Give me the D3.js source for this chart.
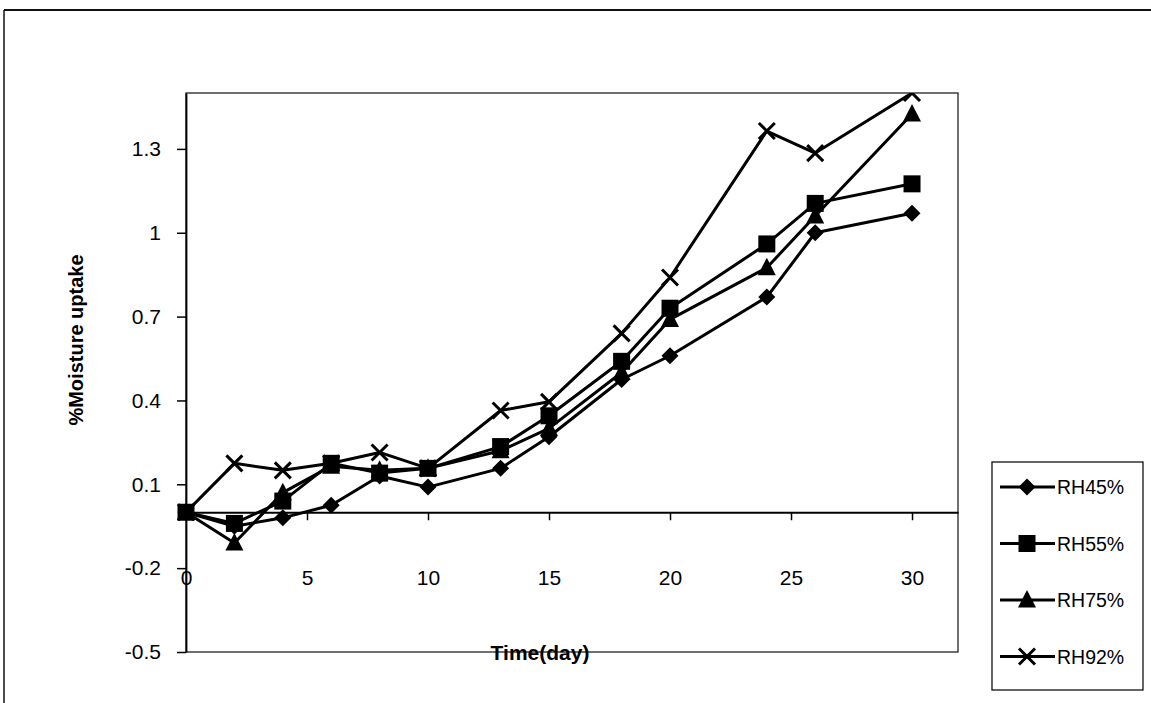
<!DOCTYPE html>
<html>
<head>
<meta charset="utf-8">
<script src="https://cdn.jsdelivr.net/npm/d3@7"></script>
<style>
  html, body { margin: 0; padding: 0; background: #fff; }
  svg { display: block; font-family: Arial, "Liberation Sans", sans-serif; }
</style>
</head>
<body>
<svg id="chart" width="1151" height="703"></svg>
<script>
// ---- data ----
const days = [0, 2, 4, 6, 8, 10, 13, 15, 18, 20, 24, 26, 30];
const seriesNames = ["RH45%", "RH55%", "RH75%", "RH92%"];
const rh45 = [0, -0.05, -0.02, 0.025, 0.13, 0.09, 0.157, 0.27, 0.475, 0.56, 0.77, 1.0, 1.07];
const rh55 = [0, -0.04, 0.04, 0.175, 0.14, 0.157, 0.235, 0.345, 0.54, 0.73, 0.96, 1.105, 1.175];
const rh75 = [0, -0.11, 0.07, 0.165, 0.15, 0.157, 0.22, 0.3, 0.5, 0.69, 0.875, 1.06, 1.425];
const rh92 = [0, 0.175, 0.15, 0.175, 0.214, 0.157, 0.364, 0.395, 0.64, 0.84, 1.364, 1.285, 1.5];
const xTicks = [0, 5, 10, 15, 20, 25, 30];
const yTicks = [-0.5, -0.2, 0.1, 0.4, 0.7, 1, 1.3];
const yTickLabels = ["-0.5", "-0.2", "0.1", "0.4", "0.7", "1", "1.3"];
const xTitle = "Time(day)";
const yTitle = "%Moisture uptake";

const seriesValues = [rh45, rh55, rh75, rh92];
const markerTypes = ["diamond", "square", "triangle", "cross"];

// ---- layout ----
const svg = d3.select("#chart");
const plot = { left: 186, right: 958, top: 93, bottom: 652 };

const x = d3.scaleLinear().domain([0, 31.9]).range([plot.left, plot.right]);
const y = d3.scaleLinear().domain([-0.5, 1.5]).range([plot.bottom, plot.top]);

svg.append("defs").append("clipPath").attr("id", "plotclip")
  .append("rect").attr("x", plot.left - 10).attr("y", plot.top)
  .attr("width", plot.right - plot.left + 10).attr("height", plot.bottom - plot.top);

// outer frame (scanned page border)
svg.append("line").attr("x1", 4).attr("x2", 1151).attr("y1", 10).attr("y2", 10)
  .attr("stroke", "#111").attr("stroke-width", 2);
svg.append("line").attr("x1", 4).attr("x2", 4).attr("y1", 10).attr("y2", 703)
  .attr("stroke", "#111").attr("stroke-width", 1.5);

// plot area border
svg.append("rect")
  .attr("x", plot.left).attr("y", plot.top)
  .attr("width", plot.right - plot.left).attr("height", plot.bottom - plot.top)
  .attr("fill", "none").attr("stroke", "#222").attr("stroke-width", 1.3);

const fmtY = d => yTickLabels[yTicks.indexOf(d)];

// y axis
const yAxis = svg.append("g")
  .attr("transform", `translate(${plot.left},0)`)
  .call(d3.axisLeft(y).tickValues(yTicks).tickSize(9).tickSizeOuter(0).tickPadding(16)
    .tickFormat(fmtY));
yAxis.select(".domain").attr("stroke", "#000").attr("stroke-width", 1.8);
yAxis.selectAll(".tick line").attr("stroke", "#000").attr("stroke-width", 1.5);
yAxis.selectAll(".tick text").attr("font-size", 21).attr("fill", "#000")
  .attr("font-family", "Arial, 'Liberation Sans', sans-serif");

// x axis (at y = 0), labels low
const xAxis = svg.append("g")
  .attr("transform", `translate(0,${y(0)})`)
  .call(d3.axisBottom(x).tickValues(xTicks).tickSize(8).tickSizeOuter(0).tickPadding(50));
xAxis.select(".domain").attr("stroke", "#000").attr("stroke-width", 1.8);
xAxis.selectAll(".tick line").attr("stroke", "#000").attr("stroke-width", 1.5);
xAxis.selectAll(".tick text").attr("font-size", 21).attr("fill", "#000")
  .attr("font-family", "Arial, 'Liberation Sans', sans-serif");

// axis titles
svg.append("text")
  .attr("transform", `translate(83,340) rotate(-90)`)
  .attr("text-anchor", "middle")
  .attr("font-size", 20).attr("font-weight", "bold").attr("fill", "#000")
  .text(yTitle);
svg.append("text")
  .attr("x", 540).attr("y", 660)
  .attr("text-anchor", "middle")
  .attr("font-size", 21).attr("font-weight", "bold").attr("fill", "#000")
  .text(xTitle);

// marker shapes
function markerPath(type) {
  switch (type) {
    case "diamond": return "M0,-8.5L8.5,0L0,8.5L-8.5,0Z";
    case "square": return "M-8.5,-8.5H8.5V8.5H-8.5Z";
    case "triangle": return "M0,-10L9,7.5H-9Z";
    case "cross": return "M-8,-8L8,8M-8,8L8,-8";
  }
}
function drawMarker(g, type, cx, cy) {
  const p = g.append("path")
    .attr("transform", `translate(${cx},${cy})`)
    .attr("d", markerPath(type));
  if (type === "cross") p.attr("fill", "none").attr("stroke", "#000").attr("stroke-width", 3);
  else p.attr("fill", "#000").attr("stroke", "none");
}

// series lines + markers
const line = d3.line().x(d => x(d[0])).y(d => y(d[1]));
const seriesLayer = svg.append("g").attr("clip-path", "url(#plotclip)");
seriesValues.forEach((vals, i) => {
  const pts = days.map((dd, j) => [dd, vals[j]]);
  const g = seriesLayer.append("g").attr("class", "series");
  g.append("path").datum(pts)
    .attr("d", line).attr("fill", "none")
    .attr("stroke", "#000").attr("stroke-width", 3).attr("stroke-linejoin", "round");
  pts.forEach(p => drawMarker(g, markerTypes[i], x(p[0]), y(p[1])));
});

// legend
const legend = svg.append("g");
legend.append("rect").attr("x", 992).attr("y", 462).attr("width", 151).attr("height", 228)
  .attr("fill", "#fff").attr("stroke", "#111").attr("stroke-width", 1.3);
seriesNames.forEach((name, i) => {
  const cy = 487 + i * 56.5;
  legend.append("line").attr("x1", 1000).attr("x2", 1055).attr("y1", cy).attr("y2", cy)
    .attr("stroke", "#000").attr("stroke-width", 3);
  drawMarker(legend, markerTypes[i], 1027, cy);
  legend.append("text").attr("x", 1057).attr("y", cy + 7)
    .attr("font-size", 19.5).attr("fill", "#000").text(name);
});
</script>
</body>
</html>
